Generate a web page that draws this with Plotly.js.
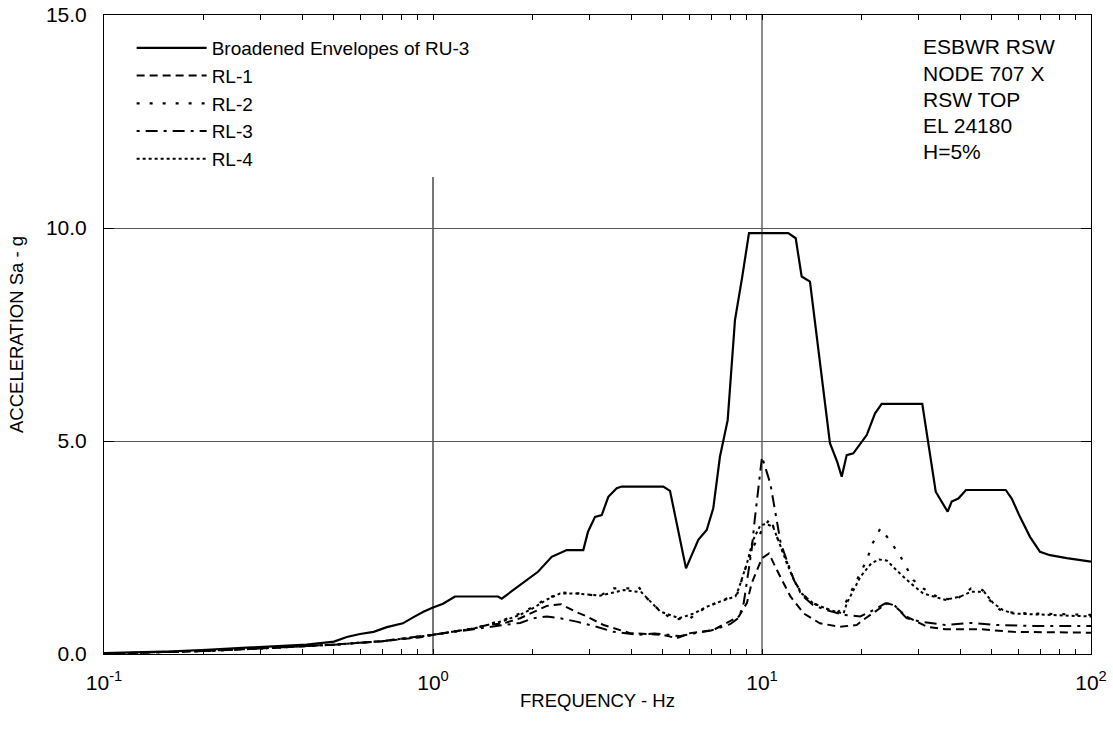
<!DOCTYPE html>
<html>
<head>
<meta charset="utf-8">
<script src="https://cdn.plot.ly/plotly-3.0.1.min.js"></script>
<style>html,body{margin:0;padding:0;background:#fff;}#chart{width:1113px;height:734px;}</style>
</head>
<body>
<div id="chart"></div>
<script>
// Broadened Envelopes of RU-3
var envFreq = [0.1,0.129,0.162,0.205,0.259,0.327,0.413,0.5,0.547,0.6,0.66,0.724,0.81,0.87,0.935,1.0,1.073,1.166,1.577,1.618,1.838,2.085,2.295,2.55,2.863,2.959,3.108,3.257,3.411,3.618,3.746,5.01,5.253,5.567,5.875,6.403,6.79,7.11,7.45,7.865,8.277,8.71,9.13,12.02,12.66,13.2,13.99,16.09,16.93,17.47,18.09,18.95,20.81,22.06,23.11,30.7,31.67,33.73,36.67,37.72,39.52,41.69,55.06,57.41,60.83,65.25,69.98,75.06,84.4,100];
var envVal = [0.02,0.04,0.06,0.1,0.14,0.18,0.22,0.29,0.4,0.47,0.52,0.63,0.72,0.86,0.99,1.09,1.18,1.35,1.35,1.3,1.62,1.93,2.28,2.44,2.44,2.87,3.22,3.26,3.69,3.89,3.93,3.93,3.83,2.84,2.01,2.68,2.91,3.42,4.63,5.49,7.84,8.86,9.88,9.88,9.76,8.86,8.74,4.95,4.51,4.16,4.67,4.71,5.14,5.65,5.87,5.87,5.18,3.81,3.34,3.58,3.65,3.85,3.85,3.65,3.22,2.75,2.40,2.32,2.25,2.17];

// RL-1 (dashed)
var rl1Freq = [0.1,0.2,0.3,0.5,0.7,0.91,1.0,1.15,1.33,1.46,1.64,1.84,2.02,2.22,2.45,2.73,2.9,3.3,3.97,5.0,5.5,6.05,7.1,7.8,8.5,9.0,9.3,10.0,10.5,11.1,12.2,13.4,15.0,17.2,19.4,20.3,22.9,24.0,25.1,27.5,31.7,36.1,46.3,58.0,100];
var rl1Val = [0.01,0.07,0.13,0.22,0.3,0.39,0.45,0.52,0.6,0.68,0.72,0.84,0.99,1.13,1.17,0.98,0.9,0.68,0.49,0.45,0.37,0.49,0.56,0.72,0.88,1.2,1.66,2.25,2.36,1.97,1.35,0.95,0.72,0.64,0.68,0.8,1.07,1.19,1.15,0.88,0.64,0.58,0.58,0.52,0.5];

// RL-2 (dotted)
var rl2Freq = [0.1,0.2,0.3,0.5,0.7,1.0,1.33,1.64,1.84,2.02,2.22,2.49,2.8,3.2,3.54,3.97,4.21,4.47,4.93,5.38,6.05,6.79,7.66,8.42,8.94,9.42,10.0,10.6,11.1,11.9,12.5,13.2,14.3,16.1,16.8,17.7,20.8,21.7,22.9,24.6,26.4,28.8,30.9,34.6,38.8,43.2,46.8,50.5,54.0,65.3,100];
var rl2Val = [0.01,0.07,0.13,0.22,0.3,0.45,0.6,0.8,0.95,1.11,1.31,1.44,1.42,1.36,1.54,1.54,1.58,1.31,0.99,0.81,0.84,1.11,1.27,1.42,2.05,2.52,2.91,3.19,2.75,2.13,1.74,1.42,1.19,1.03,0.95,1.11,2.2,2.6,2.95,2.64,2.28,1.74,1.54,1.31,1.27,1.54,1.5,1.15,0.99,0.95,0.92];

// RL-3 (dash-dot)
var rl3Freq = [0.1,0.2,0.3,0.5,0.7,1.0,1.33,1.64,1.84,2.02,2.22,2.43,2.73,3.14,3.54,4.2,4.7,5.2,5.6,6.2,7.0,8.0,8.5,8.8,9.1,9.3,9.5,9.8,10.0,10.6,11.0,11.4,11.9,12.5,13.2,14.3,15.7,17.7,19.9,21.8,23.7,25.1,27.5,30.3,36.1,43.2,51.8,65.0,100];
var rl3Val = [0.01,0.07,0.13,0.22,0.3,0.45,0.58,0.68,0.73,0.84,0.88,0.84,0.76,0.64,0.52,0.45,0.48,0.45,0.42,0.48,0.55,0.7,0.85,1.2,1.97,2.44,3.14,4.08,4.63,4.0,3.3,2.6,2.2,1.74,1.38,1.15,1.03,0.92,0.88,1.03,1.19,1.17,0.84,0.76,0.68,0.73,0.68,0.66,0.66];

// RL-4 (fine dotted)
var rl4Freq = [0.1,0.2,0.3,0.5,0.7,1.0,1.33,1.64,1.84,2.02,2.22,2.43,2.73,3.22,3.8,4.3,4.9,5.6,6.2,6.8,7.45,8.3,8.5,9.0,9.4,9.9,10.3,10.8,11.4,11.9,12.5,13.2,14.3,16.1,17.7,18.1,19.9,21.5,22.7,24.0,25.6,28.3,30.9,36.1,40.1,43.2,47.3,50.5,54.0,58.0,100];
var rl4Val = [0.01,0.07,0.13,0.22,0.3,0.45,0.6,0.78,0.92,1.08,1.28,1.42,1.42,1.37,1.5,1.45,1.0,0.84,0.95,1.11,1.23,1.35,1.54,2.13,2.68,3.03,3.05,2.99,2.52,2.13,1.74,1.42,1.19,1.03,0.95,1.19,1.81,2.13,2.22,2.19,1.97,1.66,1.42,1.27,1.35,1.46,1.46,1.19,1.03,0.95,0.88];

var seriesNames = ['Broadened Envelopes of RU-3','RL-1','RL-2','RL-3','RL-4'];

// axis ticks
var xTickVals = [0.1,1,10,100];
var xTickText = ['10<sup>-1</sup>','10<sup>0</sup>','10<sup>1</sup>','10<sup>2</sup>'];
var xMinorVals = [0.2,0.3,0.4,0.5,0.6,0.7,0.8,0.9,2,3,4,5,6,7,8,9,20,30,40,50,60,70,80,90];
var yTickVals = [0,5,10,15];
var yTickText = ['0.0','5.0','10.0','15.0'];

var infoLines = ['ESBWR RSW','NODE 707 X','RSW TOP','EL 24180','H=5%'];

var FONT = 'Arial, "Liberation Sans", sans-serif';

var traces = [
  {x: envFreq, y: envVal, name: seriesNames[0], mode: 'lines', line: {color: '#000', width: 2.2}},
  {x: rl1Freq, y: rl1Val, name: seriesNames[1], mode: 'lines', line: {color: '#000', width: 2, dash: '8px,5px'}},
  {x: rl2Freq, y: rl2Val, name: seriesNames[2], mode: 'lines', line: {color: '#000', width: 2.2, dash: '3px,10px'}},
  {x: rl3Freq, y: rl3Val, name: seriesNames[3], mode: 'lines', line: {color: '#000', width: 2, dash: '3px,6px,12px,6px'}},
  {x: rl4Freq, y: rl4Val, name: seriesNames[4], mode: 'lines', line: {color: '#000', width: 2, dash: '3px,3px'}}
];

var annotations = infoLines.map(function(t, i) {
  return {
    text: t, xref: 'paper', yref: 'paper', x: 0.828, xanchor: 'left',
    y: (654 - (47 + i * 26.2)) / 639, yanchor: 'middle', showarrow: false,
    font: {family: FONT, size: 21, color: '#000'}
  };
});

var layout = {
  width: 1113, height: 734,
  margin: {l: 104, r: 22, t: 15, b: 80},
  paper_bgcolor: '#fff', plot_bgcolor: '#fff',
  showlegend: true,
  legend: {
    x: 0.028, y: 0.978, xanchor: 'left', yanchor: 'top',
    bgcolor: 'rgba(0,0,0,0)', borderwidth: 0,
    font: {family: FONT, size: 19, color: '#000'},
    itemwidth: 70, tracegroupgap: 0
  },
  xaxis: {
    type: 'log', range: [-1, 2],
    tickmode: 'array', tickvals: xTickVals, ticktext: xTickText,
    ticks: 'inside', ticklen: 5, tickwidth: 1, tickcolor: '#000',
    minor: {tickmode: 'array', tickvals: xMinorVals, ticks: 'inside', ticklen: 5, tickwidth: 1, tickcolor: '#000', showgrid: false},
    showline: true, linecolor: '#000', linewidth: 1, mirror: 'ticks',
    showgrid: false, zeroline: false, ticklabelstandoff: 10,
    tickfont: {family: FONT, size: 21, color: '#000'},
    title: {text: 'FREQUENCY - Hz', font: {family: FONT, size: 18.5, color: '#000'}, standoff: 0}
  },
  yaxis: {
    range: [0, 15], tickvals: yTickVals, ticktext: yTickText,
    ticks: 'inside', ticklen: 10, tickwidth: 1, tickcolor: '#000',
    showline: true, linecolor: '#000', linewidth: 1, mirror: 'ticks',
    showgrid: true, gridcolor: '#555', gridwidth: 1, zeroline: false,
    ticklabelstandoff: 12,
    tickfont: {family: FONT, size: 21, color: '#000'},
    title: {text: 'ACCELERATION Sa - g', font: {family: FONT, size: 18.5, color: '#000'}, standoff: 17}
  },
  shapes: [
    {type: 'line', xref: 'paper', yref: 'paper', x0: 1/3, x1: 1/3, y0: 0, y1: 11.2/15, layer: 'below', line: {color: '#777', width: 2}},
    {type: 'line', xref: 'paper', yref: 'paper', x0: 2/3, x1: 2/3, y0: 0, y1: 1, layer: 'below', line: {color: '#666', width: 1.5}}
  ],
  annotations: annotations
};

Plotly.newPlot('chart', traces, layout, {displayModeBar: false, staticPlot: true});
</script>
</body>
</html>
